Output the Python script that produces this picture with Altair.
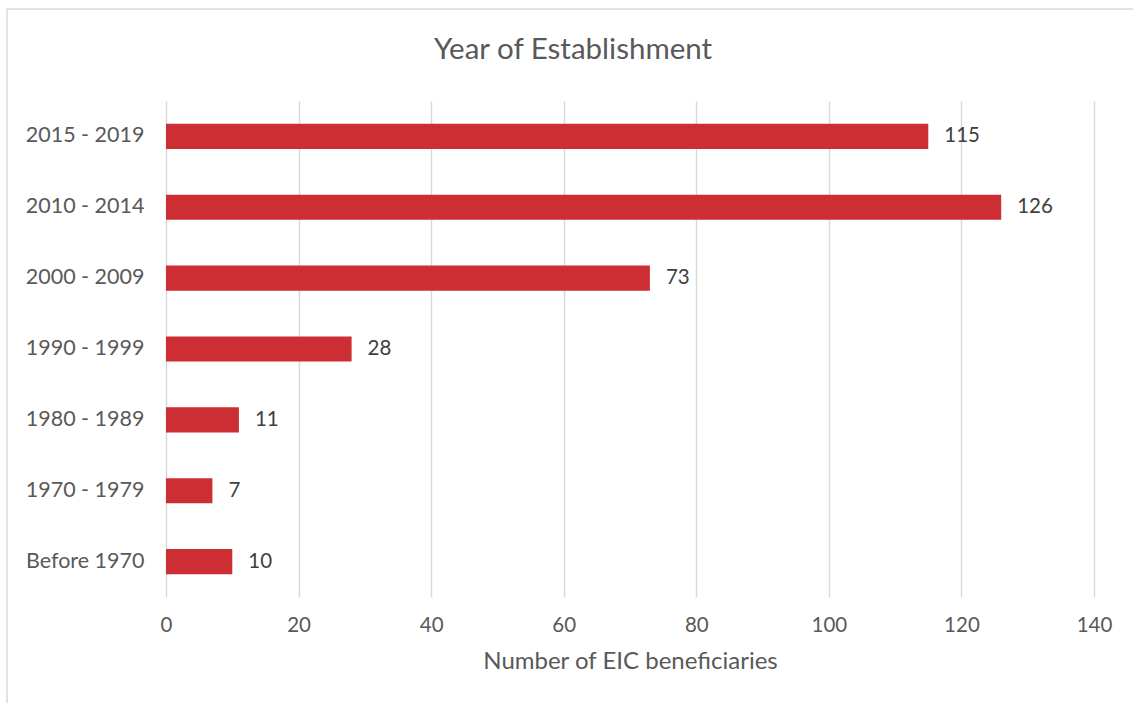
import altair as alt
import pandas as pd

categories = ["2015 - 2019", "2010 - 2014", "2000 - 2009", "1990 - 1999",
              "1980 - 1989", "1970 - 1979", "Before 1970"]
values = [115, 126, 73, 28, 11, 7, 10]
chart_title = "Year of Establishment"

df = pd.DataFrame({"period": categories, "count": values})

FONT = "Lato"
GRAY = "#595959"

x_enc = alt.X("count:Q", scale=alt.Scale(domain=[0, 140], nice=False),
              axis=alt.Axis(values=[0, 20, 40, 60, 80, 100, 120, 140],
                            title="Number of EIC beneficiaries",
                            grid=True, gridColor="#D9D9D9", gridWidth=1.5,
                            domain=False, ticks=False, labelFlush=False,
                            labelFont=FONT, labelFontSize=20.5, labelColor=GRAY,
                            labelPadding=18,
                            titleFont=FONT, titleFontSize=24, titleColor=GRAY,
                            titleFontWeight="normal", titlePadding=14))
y_enc = alt.Y("period:N", sort=categories,
              scale=alt.Scale(paddingInner=0.645, paddingOuter=0.3225),
              axis=alt.Axis(title=None, domain=False, ticks=False, grid=False,
                            labelFont=FONT, labelFontSize=21.5, labelColor=GRAY,
                            labelPadding=22))

base = alt.Chart(df)
bars = base.mark_bar(color="#CD2E33").encode(x=x_enc, y=y_enc)
labels = base.mark_text(align="left", baseline="middle", dx=16, font=FONT,
                        fontSize=20.5, color="#404040").encode(
    x="count:Q", y=alt.Y("period:N", sort=categories), text="count:Q")

frame_df = pd.DataFrame({"t": [chart_title]})
left_border = alt.Chart(frame_df).mark_rule(color="#D9D9D9", strokeWidth=1.5).encode(
    x=alt.value(-159), y=alt.value(-92), y2=alt.value(602))
top_border = alt.Chart(frame_df).mark_rule(color="#D9D9D9", strokeWidth=1.5).encode(
    x=alt.value(-159), x2=alt.value(967), y=alt.value(-92))
title_text = alt.Chart(frame_df).mark_text(
    font=FONT, fontSize=29.5, color=GRAY, align="center", baseline="middle").encode(
    x=alt.value(407), y=alt.value(-51), text="t:N")

chart = alt.layer(left_border, top_border, title_text, bars, labels).properties(
    width=928, height=496,
    autosize=alt.AutoSizeParams(type="none"),
    padding={"left": 166, "top": 101, "right": 39, "bottom": 106},
).configure(background="white").configure_view(stroke=None)

chart.save("out.html", embed_options={"renderer": "svg", "actions": False})
